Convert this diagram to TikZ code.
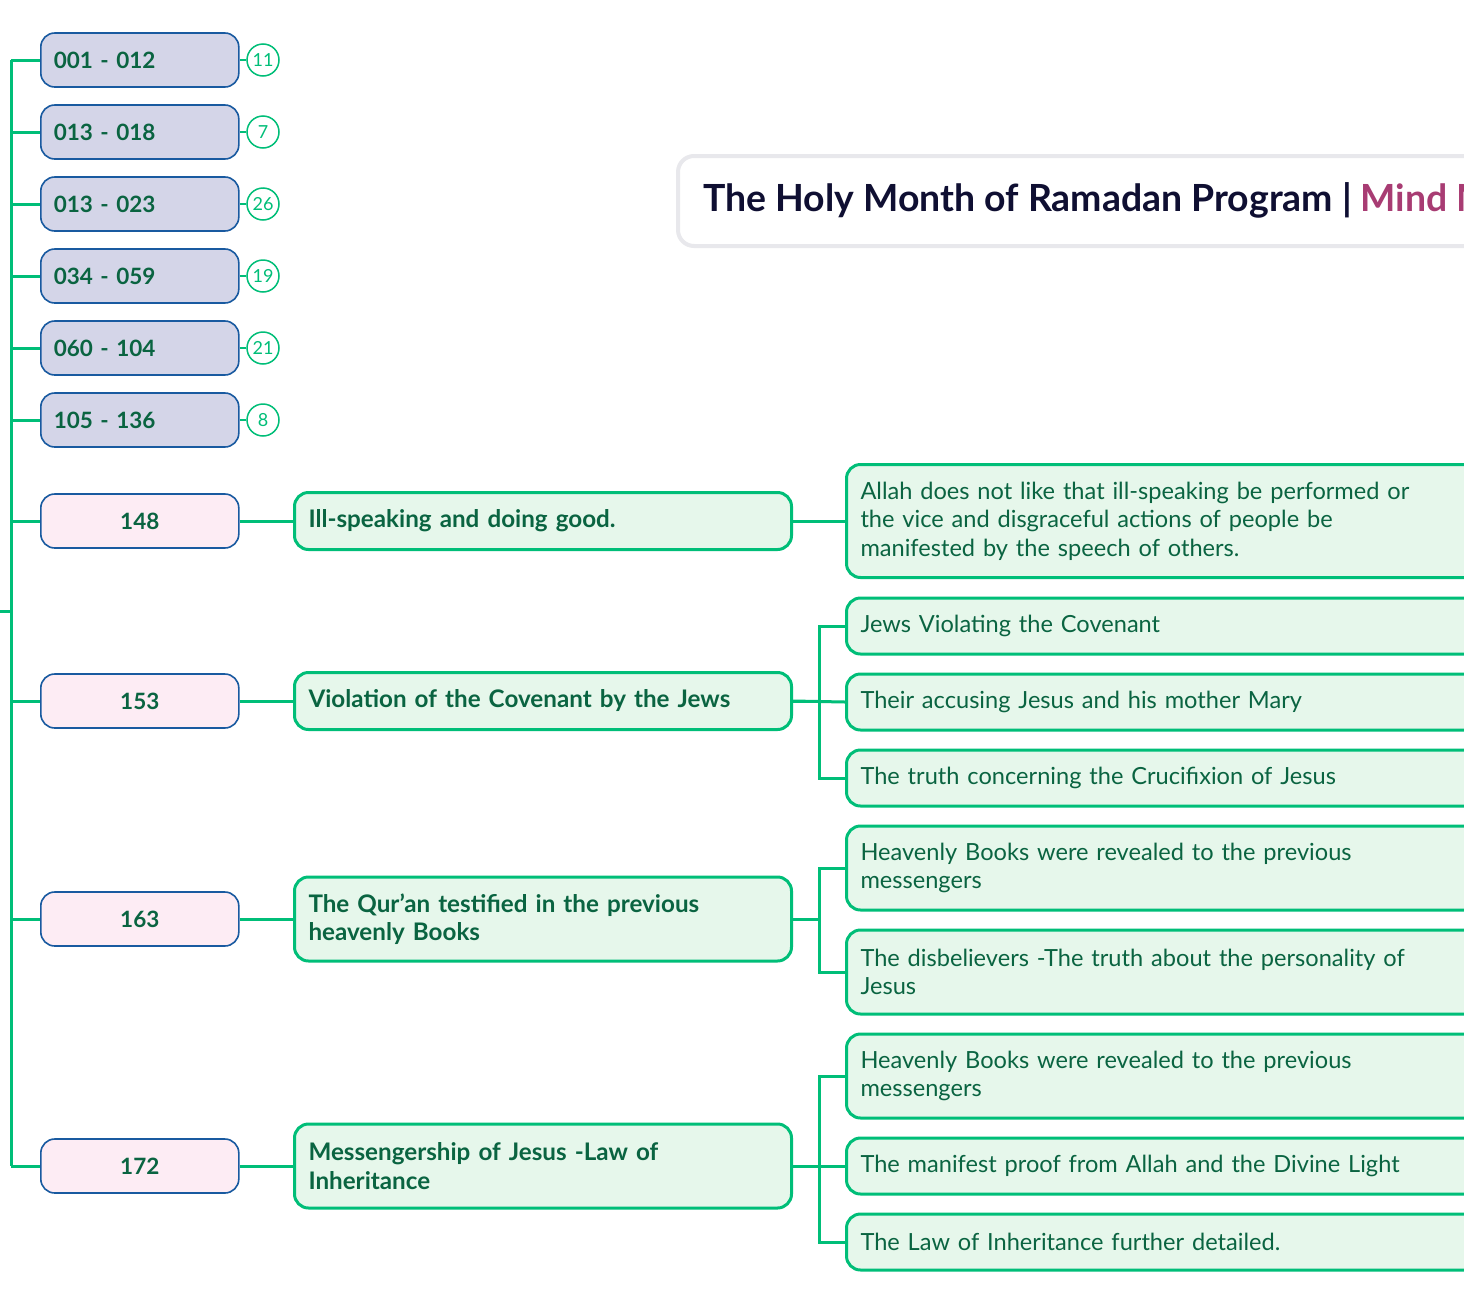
\documentclass[tikz,border=0pt]{standalone}
\usepackage{fontspec}
\setmainfont{Lato}
\usetikzlibrary{calc}
\definecolor{lgreen}{RGB}{0,190,120}
\definecolor{tgreen}{RGB}{10,100,65}
\definecolor{bblue}{RGB}{25,90,160}
\definecolor{lav}{RGB}{212,213,232}
\definecolor{pinkf}{RGB}{253,236,244}
\definecolor{mint}{RGB}{230,247,235}
\definecolor{navy}{RGB}{15,15,50}
\definecolor{magen}{RGB}{168,60,115}
\definecolor{tborder}{RGB}{232,232,236}
\begin{document}
\begin{tikzpicture}[x=1pt,y=-1pt,
  rangebox/.style={draw=bblue, line width=1.6pt, rounded corners=14pt, fill=lav,
    minimum height=54pt, inner xsep=13pt, inner ysep=0pt, text width=172pt, align=left,
    font=\fontsize{22.5}{25}\selectfont\bfseries, text=tgreen, anchor=west},
  versebox/.style={rangebox, fill=pinkf, align=center},
  countc/.style={circle, draw=lgreen, line width=1.5pt, fill=white, minimum size=32pt,
    inner sep=0pt, font=\fontsize{18}{18}\selectfont, text=lgreen},
  topicbox/.style={draw=lgreen, line width=3pt, rounded corners=14pt, fill=mint,
    inner xsep=14pt, inner ysep=0pt, text width=469pt, align=left,
    font=\fontsize{24.2}{28.5}\selectfont\bfseries, text=tgreen, anchor=west},
  detailbox/.style={draw=lgreen, line width=3pt, rounded corners=14pt, fill=mint,
    inner xsep=14pt, inner ysep=0pt, text width=617pt, align=left,
    font=\fontsize{23.6}{28.5}\selectfont, text=tgreen, anchor=west},
  link/.style={draw=lgreen, line width=3pt},
]
\useasboundingbox (0,0) rectangle (1464,1293);
\fill[white] (0,0) rectangle (1464,1293);
\begin{scope}
\clip (0,0) rectangle (1464,1293);
% title
\node[draw=tborder, line width=4pt, rounded corners=16pt, fill=white, anchor=north west,
  minimum width=830pt, minimum height=90pt] (titlebox) at (676,154) {};
\node[anchor=west, inner sep=0pt, font=\fontsize{37.4}{40}\selectfont\bfseries] (title)
  at (703,200)
  {\textcolor{navy}{The Holy Month of Ramadan Program |} \textcolor{magen}{Mind Map}};
% range boxes
\node[rangebox] (r1) at (40,60) {001 - 012};
\node[rangebox] (r2) at (40,132) {013 - 018};
\node[rangebox] (r3) at (40,204) {013 - 023};
\node[rangebox] (r4) at (40,276) {034 - 059};
\node[rangebox] (r5) at (40,348) {060 - 104};
\node[rangebox] (r6) at (40,420) {105 - 136};
\node[countc] (c1) at (263,60) {11};
\node[countc] (c2) at (263,132) {7};
\node[countc] (c3) at (263,204) {26};
\node[countc] (c4) at (263,276) {19};
\node[countc] (c5) at (263,348) {21};
\node[countc] (c6) at (263,420) {8};
% verse boxes
\node[versebox] (v148) at (40,521) {148};
\node[versebox] (v153) at (40,701) {153};
\node[versebox] (v163) at (40,919) {163};
\node[versebox] (v172) at (40,1166) {172};
% topic boxes
\node[topicbox, minimum height=57pt] (t148) at (293,521) {Ill-speaking and doing good.};
\node[topicbox, minimum height=57pt] (t153) at (293,701) {Violation of the Covenant by the Jews};
\node[topicbox, minimum height=84pt] (t163) at (293,919) {The Qur'an testified in the previous\\heavenly Books};
\node[topicbox, minimum height=84pt] (t172) at (293,1166) {Messengership of Jesus -Law of\\Inheritance};
% detail boxes
\node[detailbox, minimum height=113pt] (d148) at (845,521) {Allah does not like that ill-speaking be performed or\\the vice and disgraceful actions of people be\\manifested by the speech of others.};
\node[detailbox, minimum height=56pt] (d153a) at (845,626) {Jews Violating the Covenant};
\node[detailbox, minimum height=56pt] (d153b) at (845,702) {Their accusing Jesus and his mother Mary};
\node[detailbox, minimum height=56pt] (d153c) at (845,778) {The truth concerning the Crucifixion of Jesus};
\node[detailbox, minimum height=84pt] (d163a) at (845,868) {Heavenly Books were revealed to the previous\\messengers};
\node[detailbox, minimum height=84pt] (d163b) at (845,972) {The disbelievers -The truth about the personality of\\Jesus};
\node[detailbox, minimum height=84pt] (d172a) at (845,1076) {Heavenly Books were revealed to the previous\\messengers};
\node[detailbox, minimum height=56pt] (d172b) at (845,1166) {The manifest proof from Allah and the Divine Light};
\node[detailbox, minimum height=56pt] (d172c) at (845,1242) {The Law of Inheritance further detailed.};
% trunk
\coordinate (trunk) at (11,0);
\coordinate (root) at (0,611);
\draw[link] (r1.west -| trunk) -- (v172.west -| trunk);
\draw[link] (root) -- (root -| trunk);
\foreach \n in {r1,r2,r3,r4,r5,r6,v148,v153,v163,v172}
  \draw[link] (\n.west -| trunk) -- (\n.west);
\foreach \i in {1,...,6}
  \draw[draw=lgreen, line width=1.6pt] (r\i.east) -- (c\i.west);
% verse to topic
\draw[link] (v148.east) -- (t148.west);
\draw[link] (v153.east) -- (t153.west);
\draw[link] (v163.east) -- (t163.west);
\draw[link] (v172.east) -- (t172.west);
% topic to details
\draw[link] (t148.east) -- (d148.west);
\draw[link] (t153.east) -- ++(26,0) |- (d153a.west);
\draw[link] (t153.east) -- (d153b.west);
\draw[link] (t153.east) -- ++(26,0) |- (d153c.west);
\draw[link] (t163.east) -- ++(26,0) |- (d163a.west);
\draw[link] (t163.east) -- ++(26,0) |- (d163b.west);
\draw[link] (t172.east) -- ++(26,0) |- (d172a.west);
\draw[link] (t172.east) -- (d172b.west);
\draw[link] (t172.east) -- ++(26,0) |- (d172c.west);
\end{scope}
\end{tikzpicture}
\end{document}
